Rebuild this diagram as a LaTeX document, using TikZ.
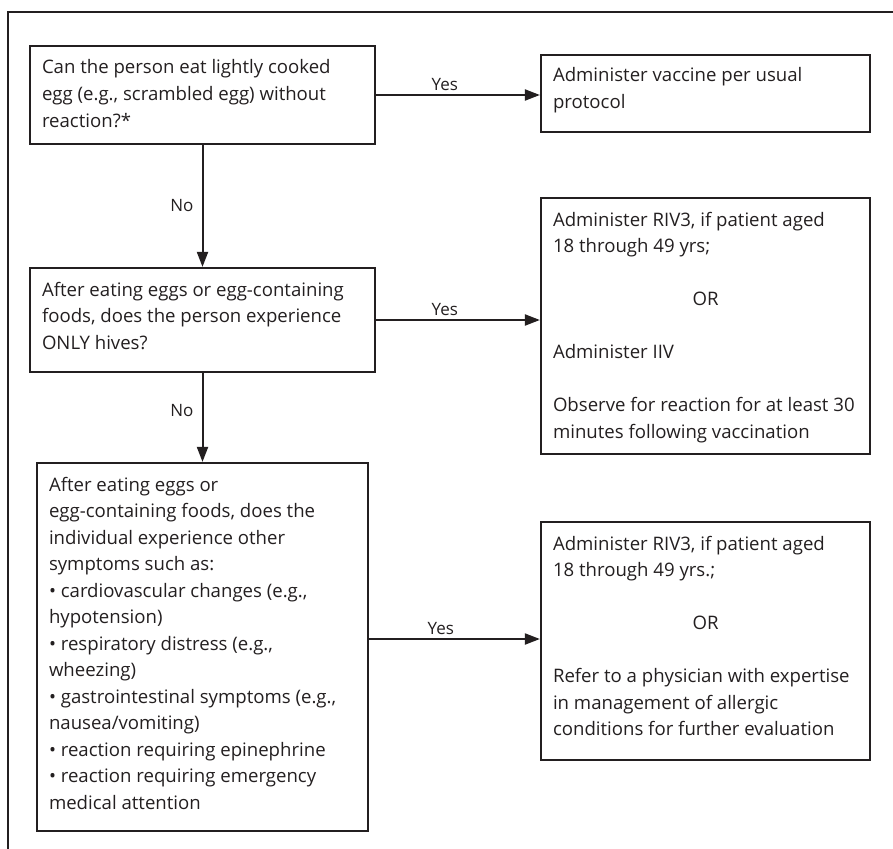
\documentclass[tikz,border=0pt]{standalone}
\usepackage{fontspec}
\setmainfont{Open Sans}
\usetikzlibrary{arrows.meta}
\definecolor{ink}{HTML}{231F20}

\begin{document}
\begin{tikzpicture}[x=1pt,y=-1pt]
\tikzstyle{every node}+=[inner sep=0pt, text=ink]
\tikzstyle{stepbox}=[draw=ink, line width=2.2pt, inner xsep=12pt, inner ysep=0pt, font=\fontsize{18.6}{26.5}\selectfont]
\tikzstyle{arr}=[draw=ink, line width=2pt, -{Triangle[length=15pt,width=11pt]}]
\tikzstyle{lbl}=[font=\fontsize{17}{20}\selectfont]
\clip (0,0) rectangle (893,848);
\draw [draw=ink, line width=2.3pt] (8,12) rectangle (912,870);
\node [stepbox] (q1) at (202.5,95) {\parbox[c][98pt][t]{321pt}{\raggedright\rule{0pt}{28pt}Can the person eat lightly cooked\\
egg (e.g., scrambled egg) without\\
reaction?*}};
\node [stepbox] (q2) at (202.5,320) {\parbox[c][104pt][t]{321pt}{\raggedright\rule{0pt}{28pt}After eating eggs or egg-containing\\
foods, does the person experience\\
ONLY hives?}};
\node [stepbox] (q3) at (202.5,647) {\parbox[c][368pt][t]{307pt}{\raggedright\rule{0pt}{28pt}After eating eggs or\\
egg-containing foods, does the\\
individual experience other\\
symptoms such as:\\
• cardiovascular changes (e.g.,\\
hypotension)\\
• respiratory distress (e.g.,\\
wheezing)\\
• gastrointestinal symptoms (e.g.,\\
nausea/vomiting)\\
• reaction requiring epinephrine\\
• reaction requiring emergency\\
medical attention}};
\node [stepbox] (a1) at (705.5,93.5) {\parbox[c][77pt][t]{305pt}{\raggedright\rule{0pt}{27pt}Administer vaccine per usual\\
protocol}};
\node [stepbox] (a2) at (705.5,326) {\parbox[c][256pt][t]{305pt}{\raggedright\rule{0pt}{28pt}Administer RIV3, if patient aged\\
18 through 49 yrs;\par
\vspace{26.5pt}
\centerline{OR}
\vspace{26.5pt}
Administer IIV\par
\vspace{26.5pt}
Observe for reaction for at least 30\\
minutes following vaccination}};
\node [stepbox] (a3) at (705.5,641) {\parbox[c][238pt][t]{305pt}{\raggedright\rule{0pt}{28pt}Administer RIV3, if patient aged\\
18 through 49 yrs.;\par
\vspace{26.5pt}
\centerline{OR}
\vspace{26.5pt}
Refer to a physician with expertise\\
in management of allergic\\
conditions for further evaluation}};
\draw [arr] (q1.east) -- node [lbl, above=3pt, pos=0.42] {Yes} (a1.west |- q1.east);
\draw [arr] (q2.east) -- node [lbl, above=3pt, pos=0.42] {Yes} (a2.west |- q2.east);
\draw [arr] ([yshift=8pt]q3.east) -- node [lbl, above=3pt, pos=0.42] {Yes} ([yshift=8pt]q3.east -| a3.west);
\draw [arr] (q1.south) -- node [lbl, left=8pt, pos=0.5] {No} (q2.north);
\draw [arr] (q2.south) -- node [lbl, left=8pt, pos=0.42] {No} (q3.north);
\end{tikzpicture}
\end{document}
